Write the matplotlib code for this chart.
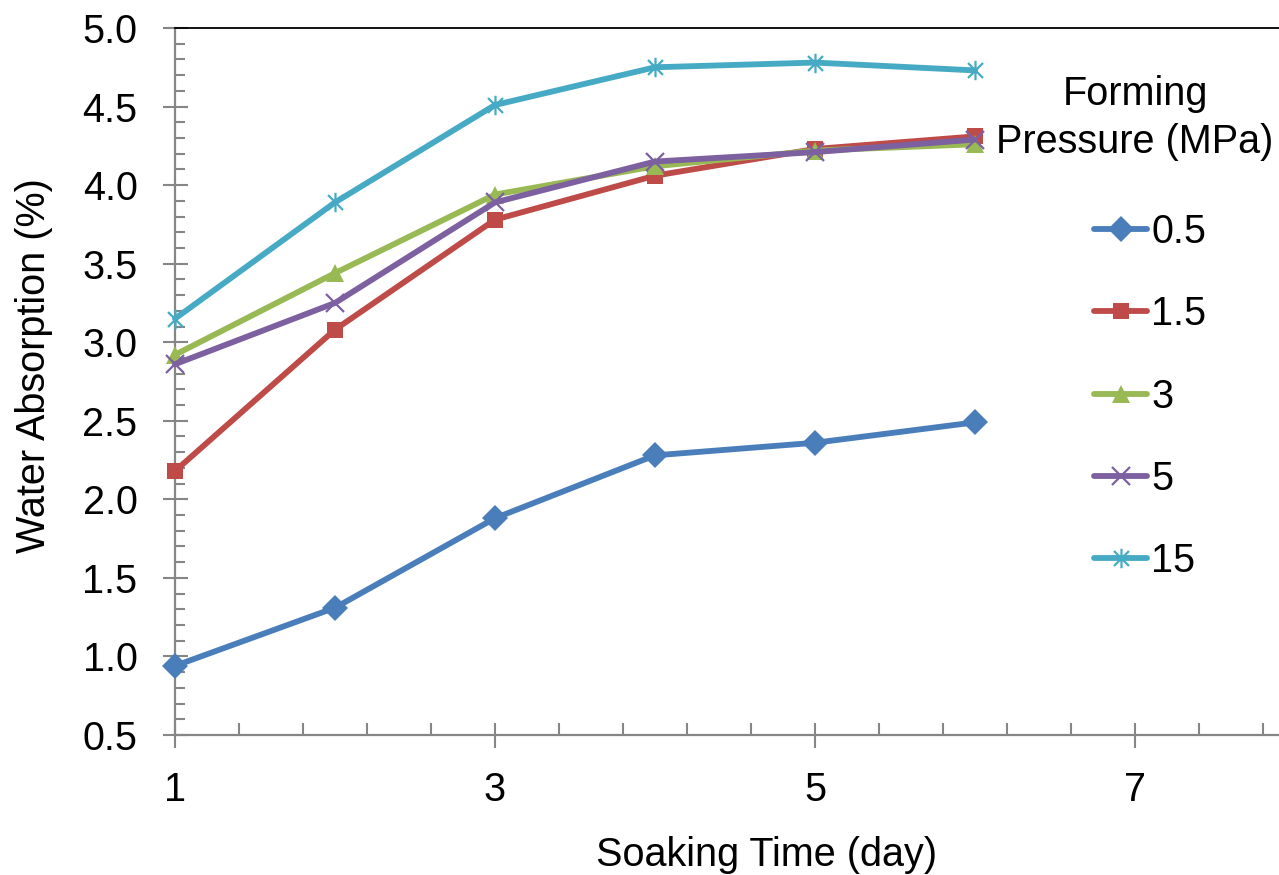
import matplotlib.pyplot as plt
import numpy as np
from matplotlib.path import Path
from matplotlib.ticker import MultipleLocator

plt.rcParams["font.family"] = ["Liberation Sans", "DejaVu Sans"]

days = [1, 2, 3, 4, 5, 6]
pressure_labels = ["0.5", "1.5", "3", "5", "15"]
absorption_05 = [0.94, 1.31, 1.88, 2.28, 2.36, 2.49]
absorption_15 = [2.18, 3.08, 3.78, 4.06, 4.23, 4.31]
absorption_3 = [2.92, 3.44, 3.94, 4.12, 4.22, 4.26]
absorption_5 = [2.86, 3.25, 3.89, 4.15, 4.21, 4.29]
absorption_15mpa = [3.15, 3.89, 4.51, 4.75, 4.78, 4.73]

# excel style asterisk: an x with a vertical bar through it
star = Path(
    [(-1, -1), (1, 1), (-1, 1), (1, -1), (0, -1.3), (0, 1.3)],
    [Path.MOVETO, Path.LINETO, Path.MOVETO, Path.LINETO, Path.MOVETO, Path.LINETO],
)

styles = [
    ("#4a7ebb", "D", 13),
    ("#be4b48", "s", 12),
    ("#98b954", "^", 13),
    ("#7d60a0", "x", 13),
    ("#46aac5", star, 14),
]


def main() -> None:
    series = [absorption_05, absorption_15, absorption_3, absorption_5, absorption_15mpa]

    fig = plt.figure(figsize=(12.79, 8.75), dpi=100)
    ax = fig.add_axes([175 / 1279, 1 - 735 / 875, 1104 / 1279, 707 / 875])

    for values, label, (color, marker, size) in zip(series, pressure_labels, styles):
        stroked = marker == "x" or marker is star
        ax.plot(
            days,
            values,
            color=color,
            linewidth=4.2,
            marker=marker,
            markersize=size,
            markeredgewidth=1.6 if stroked else 0,
            markeredgecolor=color,
            label=label,
            solid_capstyle="round",
            clip_on=False,
            zorder=3,
        )

    ax.set_xlim(1, 7.9)
    ax.set_ylim(0.5, 5.0)
    ax.xaxis.set_major_locator(MultipleLocator(2, offset=1))
    ax.xaxis.set_minor_locator(MultipleLocator(0.4, offset=0.2))
    ax.yaxis.set_major_locator(MultipleLocator(0.5))
    ax.yaxis.set_minor_locator(MultipleLocator(0.1))
    ax.yaxis.set_major_formatter(plt.FuncFormatter(lambda v, _: f"{v:.1f}"))

    axis_gray = "#868686"
    for side in ("left", "bottom"):
        ax.spines[side].set_color(axis_gray)
        ax.spines[side].set_linewidth(1.6)
    ax.spines["right"].set_visible(False)
    ax.spines["top"].set_color("black")
    ax.spines["top"].set_linewidth(1.3)

    ax.tick_params(axis="both", which="major", direction="inout", length=18,
                   width=1.5, color=axis_gray, labelsize=28.5)
    ax.tick_params(axis="y", which="major", pad=18)
    ax.tick_params(axis="x", which="major", pad=17)
    ax.tick_params(axis="y", which="minor", direction="in", length=7,
                   width=1.5, color=axis_gray)
    ax.tick_params(axis="x", which="minor", direction="in", length=9,
                   width=1.5, color=axis_gray)

    ax.set_xlabel("Soaking Time (day)", fontsize=28.5)
    ax.set_ylabel("Water Absorption (%)", fontsize=28.5)
    ax.xaxis.set_label_coords(592 / 1104, (735 - 836) / 707)
    ax.yaxis.set_label_coords((53 - 175) / 1104, (735 - 366) / 707)

    fig.text(1135 / 1279, 1 - 118 / 875, "Forming\nPressure (MPa)", fontsize=28.5,
             ha="center", va="center", multialignment="center", linespacing=1.35)
    ax.legend(
        loc="upper left",
        bbox_to_anchor=(1094 / 1279, 1 - 213 / 875),
        bbox_transform=fig.transFigure,
        frameon=False,
        fontsize=28.5,
        handlelength=1.35,
        handletextpad=0.1,
        labelspacing=1.12,
        borderpad=0,
        borderaxespad=0,
    )

    fig.savefig("out.png", dpi=100)


if __name__ == "__main__":
    main()
